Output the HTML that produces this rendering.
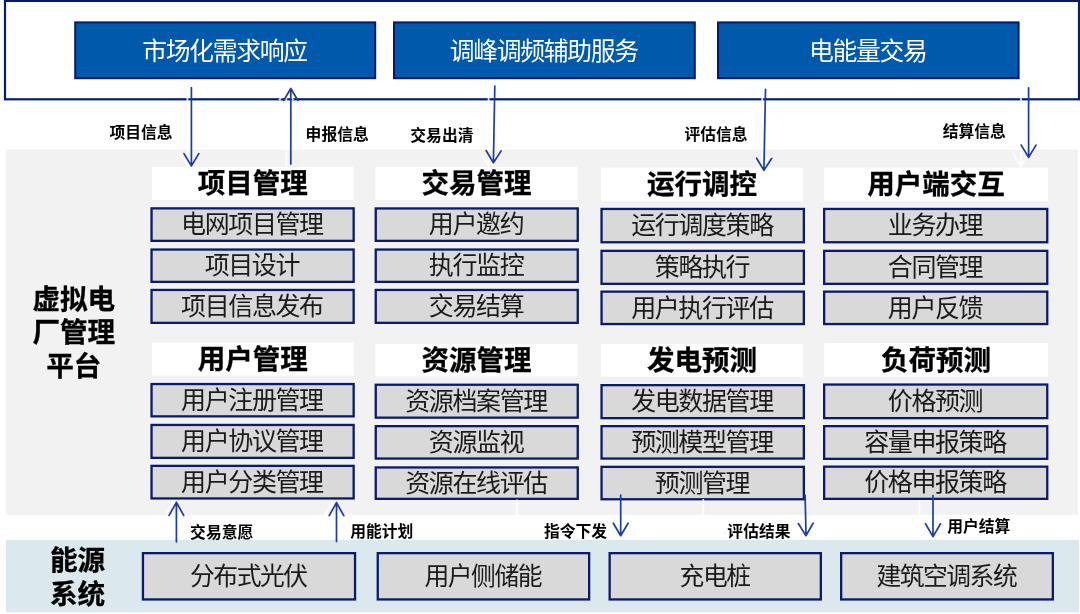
<!DOCTYPE html>
<html lang="zh-CN"><head><meta charset="utf-8"><title>虚拟电厂管理平台</title>
<style>
html,body{margin:0;padding:0;background:#fff;}
body{width:1080px;height:614px;position:relative;overflow:hidden;filter:blur(0.45px);font-family:"Liberation Sans","Noto Sans CJK SC",sans-serif;color:#111;}
.a{position:absolute;box-sizing:border-box;}
.c{display:flex;align-items:center;justify-content:center;white-space:nowrap;}
.blue{color:#fff;font-size:24.8px;letter-spacing:-1.3px;font-weight:400;}
.t{font-size:27.5px;font-weight:700;color:#000;-webkit-text-stroke:0.3px #000;}
.i{font-size:25px;letter-spacing:-1.4px;font-weight:400;color:#1a1a1a;}
.b{font-size:24.8px;letter-spacing:-1.5px;font-weight:400;color:#1a1a1a;}
.l{font-size:15.8px;font-weight:700;color:#000;line-height:20px;height:20px;}
.side{font-size:27.6px;font-weight:700;color:#000;text-align:center;-webkit-text-stroke:0.3px #000;}
svg{position:absolute;left:0;top:0;}
</style></head><body>

<svg width="1080" height="614" viewBox="0 0 1080 614" fill="none">
<rect x="5" y="0.9" width="1074" height="98.4" fill="#fff" stroke="#00206e" stroke-width="2.2"/>
<rect x="75.2" y="22.4" width="300" height="55.8" fill="#0059aa" stroke="#001a6e" stroke-width="2"/>
<rect x="394" y="22.4" width="300.8" height="55.8" fill="#0059aa" stroke="#001a6e" stroke-width="2"/>
<rect x="718" y="22.4" width="300.6" height="55.8" fill="#0059aa" stroke="#001a6e" stroke-width="2"/>
<rect x="5.7" y="149.6" width="1072.3" height="365.2" fill="#f2f2f2"/>
<rect x="5.8" y="539.9" width="1073.2" height="72.4" fill="#dbe9ee"/>
<rect x="152" y="167" width="201.6" height="33" fill="#fff"/>
<rect x="152" y="342.7" width="201.6" height="32.9" fill="#fff"/>
<rect x="151.55" y="208.35" width="202.1" height="32.5" fill="#d9d9d9" stroke="#0b1b6c" stroke-width="2.3"/>
<rect x="151.55" y="249.55" width="202.1" height="32.3" fill="#d9d9d9" stroke="#0b1b6c" stroke-width="2.3"/>
<rect x="151.55" y="289.95" width="202.1" height="32.9" fill="#d9d9d9" stroke="#0b1b6c" stroke-width="2.3"/>
<rect x="151.55" y="384.05" width="202.1" height="32.3" fill="#d9d9d9" stroke="#0b1b6c" stroke-width="2.3"/>
<rect x="151.55" y="424.95" width="202.1" height="32.9" fill="#d9d9d9" stroke="#0b1b6c" stroke-width="2.3"/>
<rect x="151.55" y="465.85" width="202.1" height="32.6" fill="#d9d9d9" stroke="#0b1b6c" stroke-width="2.3"/>
<rect x="375.4" y="167" width="202.2" height="33" fill="#fff"/>
<rect x="375.4" y="344" width="202.2" height="32.6" fill="#fff"/>
<rect x="375.75" y="208.45" width="202" height="32.4" fill="#d9d9d9" stroke="#0b1b6c" stroke-width="2.3"/>
<rect x="375.75" y="249.55" width="202" height="32.3" fill="#d9d9d9" stroke="#0b1b6c" stroke-width="2.3"/>
<rect x="375.75" y="289.95" width="202" height="32.9" fill="#d9d9d9" stroke="#0b1b6c" stroke-width="2.3"/>
<rect x="375.75" y="384.75" width="202" height="32.9" fill="#d9d9d9" stroke="#0b1b6c" stroke-width="2.3"/>
<rect x="375.75" y="426.15" width="202" height="32.4" fill="#d9d9d9" stroke="#0b1b6c" stroke-width="2.3"/>
<rect x="375.75" y="467.45" width="202" height="31.4" fill="#d9d9d9" stroke="#0b1b6c" stroke-width="2.3"/>
<rect x="601" y="167.6" width="202" height="33.4" fill="#fff"/>
<rect x="601" y="344" width="202" height="32.6" fill="#fff"/>
<rect x="601.55" y="208.95" width="202.3" height="33.3" fill="#d9d9d9" stroke="#0b1b6c" stroke-width="2.3"/>
<rect x="601.55" y="250.85" width="202.3" height="33" fill="#d9d9d9" stroke="#0b1b6c" stroke-width="2.3"/>
<rect x="601.55" y="291.65" width="202.3" height="32.4" fill="#d9d9d9" stroke="#0b1b6c" stroke-width="2.3"/>
<rect x="601.55" y="385.15" width="202.3" height="33" fill="#d9d9d9" stroke="#0b1b6c" stroke-width="2.3"/>
<rect x="601.55" y="426.15" width="202.3" height="32.4" fill="#d9d9d9" stroke="#0b1b6c" stroke-width="2.3"/>
<rect x="601.55" y="466.85" width="202.3" height="32.4" fill="#d9d9d9" stroke="#0b1b6c" stroke-width="2.3"/>
<rect x="824.3" y="167.6" width="223.6" height="33.4" fill="#fff"/>
<rect x="824.3" y="343.2" width="223.6" height="33.4" fill="#fff"/>
<rect x="824.15" y="208.95" width="223.1" height="33.3" fill="#d9d9d9" stroke="#0b1b6c" stroke-width="2.3"/>
<rect x="824.15" y="250.85" width="223.1" height="33" fill="#d9d9d9" stroke="#0b1b6c" stroke-width="2.3"/>
<rect x="824.15" y="291.65" width="223.1" height="32.4" fill="#d9d9d9" stroke="#0b1b6c" stroke-width="2.3"/>
<rect x="824.15" y="384.55" width="223.1" height="33.6" fill="#d9d9d9" stroke="#0b1b6c" stroke-width="2.3"/>
<rect x="824.15" y="426.15" width="223.1" height="32.7" fill="#d9d9d9" stroke="#0b1b6c" stroke-width="2.3"/>
<rect x="824.15" y="466.65" width="223.1" height="32.2" fill="#d9d9d9" stroke="#0b1b6c" stroke-width="2.3"/>
<rect x="142.95" y="553.15" width="212.1" height="46.3" fill="#d9d9d9" stroke="#0b1b6c" stroke-width="2.3"/>
<rect x="377.75" y="553.15" width="211.4" height="46.3" fill="#d9d9d9" stroke="#0b1b6c" stroke-width="2.3"/>
<rect x="609.65" y="553.15" width="211.2" height="46.3" fill="#d9d9d9" stroke="#0b1b6c" stroke-width="2.3"/>
<rect x="841.15" y="553.15" width="211.7" height="46.3" fill="#d9d9d9" stroke="#0b1b6c" stroke-width="2.3"/>
<g stroke="#fff" stroke-width="1.8" stroke-linecap="butt" stroke-linejoin="miter" opacity="0.85">
<path d="M187.5 96L187.5 166M180.1 153.7L187.5 166L194.9 153.7"/>
<path d="M286.3 166L286.3 88.3M293.3 100.3L286.3 88.3L279.3 100.3"/>
<path d="M488.6 96L488.6 166M481.1 154L488.6 166L496.1 154"/>
<path d="M762.2 96L762.2 167M754.7 155L762.2 167L769.7 155"/>
<path d="M1021 96L1021 166.3M1013.4 153.7L1021 166.3L1028.6 153.7"/>
<path d="M173 540L173 501.5M180.3 514.5L173 501.5L165.7 514.5"/>
<path d="M332 540L332 502.5M339.3 515.5L332 502.5L324.7 515.5"/>
<path d="M517 540L517 499.5"/>
<path d="M703.3 540L703.3 499"/>
<path d="M919.5 540L919.5 500"/>
</g>
<g stroke="#1d3c9f" stroke-width="1.7" stroke-linecap="round" stroke-linejoin="round">
<path d="M191.4 87.7L191.4 165.9M184 153.6L191.4 165.9L198.8 153.6"/>
<path d="M290.8 164.1L290.8 88.5M297.9 100.5L290.8 88.5L283.7 100.5"/>
<path d="M494.8 86.1L493.4 162.7M486.12 150.56L493.4 162.7L501.12 150.84"/>
<path d="M765.5 89.4L763.9 170.4M756.64 158.25L763.9 170.4L771.64 158.55"/>
<path d="M1028.6 87.8L1028.6 157.4M1021.2 145.1L1028.6 157.4L1036 145.1"/>
<path d="M176.4 541.8L176.4 502.4M183.7 515.4L176.4 502.4L169.1 515.4"/>
<path d="M336.5 541.5L336.5 502.7M343.8 515.7L336.5 502.7L329.2 515.7"/>
<path d="M620.7 495L620.7 535.7M613.3 523.2L620.7 535.7L628.1 523.2"/>
<path d="M805.1 495L806 535.7M798.33 523.57L806 535.7L813.13 523.24"/>
<path d="M933 495.7L933 536.6M925.5 523.8L933 536.6L940.5 523.8"/>
</g></svg>
<div class="a c blue" style="left:73.55px;top:20px;width:302px;height:57.8px">市场化需求响应</div>
<div class="a c blue" style="left:392.35px;top:20px;width:302.8px;height:57.8px">调峰调频辅助服务</div>
<div class="a c blue" style="left:716.35px;top:20px;width:302.6px;height:57.8px">电能量交易</div>
<div class="a side" style="left:23.8px;top:283.1px;width:100px;line-height:33.2px">虚拟电<br>厂管理<br>平台</div>
<div class="a side" style="left:27.6px;top:544.2px;width:100px;line-height:33.8px">能源<br>系统</div>
<div class="a c t" style="left:152px;top:164.8px;width:201.6px;height:33px">项目管理</div>
<div class="a c t" style="left:152px;top:340.5px;width:201.6px;height:32.9px">用户管理</div>
<div class="a c i" style="left:149.7px;top:204.9px;width:204.4px;height:34.8px">电网项目管理</div>
<div class="a c i" style="left:149.7px;top:246.1px;width:204.4px;height:34.6px">项目设计</div>
<div class="a c i" style="left:149.7px;top:286.5px;width:204.4px;height:35.2px">项目信息发布</div>
<div class="a c i" style="left:149.7px;top:380.6px;width:204.4px;height:34.6px">用户注册管理</div>
<div class="a c i" style="left:149.7px;top:421.5px;width:204.4px;height:35.2px">用户协议管理</div>
<div class="a c i" style="left:149.7px;top:462.4px;width:204.4px;height:34.9px">用户分类管理</div>
<div class="a c t" style="left:375.4px;top:164.8px;width:202.2px;height:33px">交易管理</div>
<div class="a c t" style="left:375.4px;top:341.8px;width:202.2px;height:32.6px">资源管理</div>
<div class="a c i" style="left:373.9px;top:205px;width:204.3px;height:34.7px">用户邀约</div>
<div class="a c i" style="left:373.9px;top:246.1px;width:204.3px;height:34.6px">执行监控</div>
<div class="a c i" style="left:373.9px;top:286.5px;width:204.3px;height:35.2px">交易结算</div>
<div class="a c i" style="left:373.9px;top:381.3px;width:204.3px;height:35.2px">资源档案管理</div>
<div class="a c i" style="left:373.9px;top:422.7px;width:204.3px;height:34.7px">资源监视</div>
<div class="a c i" style="left:373.9px;top:464px;width:204.3px;height:33.7px">资源在线评估</div>
<div class="a c t" style="left:601px;top:165.4px;width:202px;height:33.4px">运行调控</div>
<div class="a c t" style="left:601px;top:341.8px;width:202px;height:32.6px">发电预测</div>
<div class="a c i" style="left:599.7px;top:205.5px;width:204.6px;height:35.6px">运行调度策略</div>
<div class="a c i" style="left:599.7px;top:247.4px;width:204.6px;height:35.3px">策略执行</div>
<div class="a c i" style="left:599.7px;top:288.2px;width:204.6px;height:34.7px">用户执行评估</div>
<div class="a c i" style="left:599.7px;top:381.7px;width:204.6px;height:35.3px">发电数据管理</div>
<div class="a c i" style="left:599.7px;top:422.7px;width:204.6px;height:34.7px">预测模型管理</div>
<div class="a c i" style="left:599.7px;top:463.4px;width:204.6px;height:34.7px">预测管理</div>
<div class="a c t" style="left:824.3px;top:165.4px;width:223.6px;height:33.4px">用户端交互</div>
<div class="a c t" style="left:824.3px;top:341px;width:223.6px;height:33.4px">负荷预测</div>
<div class="a c i" style="left:822.3px;top:205.5px;width:225.4px;height:35.6px">业务办理</div>
<div class="a c i" style="left:822.3px;top:247.4px;width:225.4px;height:35.3px">合同管理</div>
<div class="a c i" style="left:822.3px;top:288.2px;width:225.4px;height:34.7px">用户反馈</div>
<div class="a c i" style="left:822.3px;top:381.1px;width:225.4px;height:35.9px">价格预测</div>
<div class="a c i" style="left:822.3px;top:422.7px;width:225.4px;height:35px">容量申报策略</div>
<div class="a c i" style="left:822.3px;top:463.2px;width:225.4px;height:34.5px">价格申报策略</div>
<div class="a c b" style="left:141.1px;top:550px;width:214.4px;height:48.6px">分布式光伏</div>
<div class="a c b" style="left:375.9px;top:550px;width:213.7px;height:48.6px">用户侧储能</div>
<div class="a c b" style="left:607.8px;top:550px;width:213.5px;height:48.6px">充电桩</div>
<div class="a c b" style="left:839.3px;top:550px;width:214px;height:48.6px">建筑空调系统</div>
<div class="a c l" style="left:100px;top:122.8px;width:82px">项目信息</div>
<div class="a c l" style="left:296.4px;top:124.8px;width:81.6px">申报信息</div>
<div class="a c l" style="left:401px;top:125.8px;width:81.8px">交易出清</div>
<div class="a c l" style="left:675px;top:125px;width:82px">评估信息</div>
<div class="a c l" style="left:933.5px;top:122px;width:81.5px">结算信息</div>
<div class="a c l" style="left:181.2px;top:523.2px;width:81px">交易意愿</div>
<div class="a c l" style="left:341px;top:521.5px;width:81.5px">用能计划</div>
<div class="a c l" style="left:534.5px;top:522.2px;width:82px">指令下发</div>
<div class="a c l" style="left:718.2px;top:522.2px;width:81.5px">评估结果</div>
<div class="a c l" style="left:938px;top:516.5px;width:81.5px">用户结算</div>
</body></html>
